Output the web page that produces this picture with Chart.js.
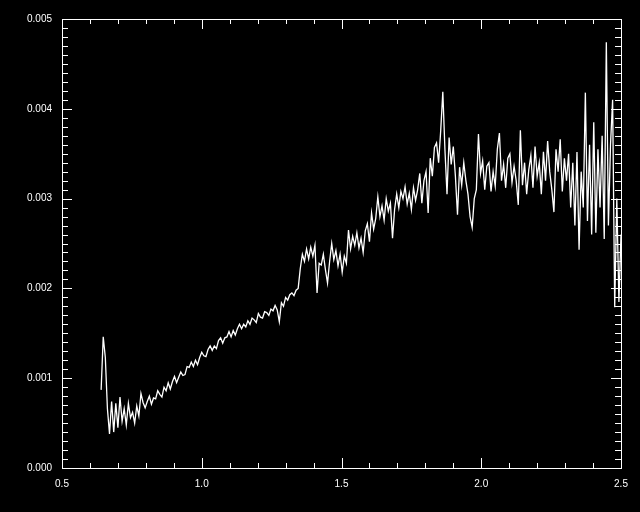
<!DOCTYPE html>
<html>
<head>
<meta charset="utf-8">
<script src="https://cdn.jsdelivr.net/npm/chart.js@4.4.0/dist/chart.umd.min.js"></script>
<style>
  html, body { margin: 0; padding: 0; background: #000; }
  #grafico { width: 640px; height: 512px; }
</style>
</head>
<body>
<div id="grafico"><canvas id="espectro" width="640" height="512"></canvas></div>
<script>
// sampling of the spectrum (x axis)
var lambdaInicio = 0.64;
var lambdaPasso = 0.0075;

// flux values
var fluxo = [
  0.00087, 0.00146, 0.00123, 0.00066, 0.00038, 0.00074, 0.00040, 0.00072, 0.00045, 0.00079,
  0.00052, 0.00066, 0.00048, 0.00072, 0.00056, 0.00062, 0.00050, 0.00069, 0.00058, 0.00083,
  0.00073, 0.00067, 0.00074, 0.00080, 0.00071, 0.00078, 0.00077, 0.00086, 0.00082, 0.00079,
  0.00090, 0.00086, 0.00095, 0.00088, 0.00096, 0.00102, 0.00095, 0.00101, 0.00107, 0.00103,
  0.00104, 0.00113, 0.00112, 0.00118, 0.00113, 0.00120, 0.00115, 0.00123, 0.00129, 0.00125,
  0.00124, 0.00132, 0.00136, 0.00131, 0.00136, 0.00133, 0.00142, 0.00145, 0.00139, 0.00145,
  0.00146, 0.00152, 0.00146, 0.00153, 0.00148, 0.00155, 0.00160, 0.00155, 0.00160, 0.00157,
  0.00164, 0.00160, 0.00167, 0.00165, 0.00162, 0.00172, 0.00168, 0.00167, 0.00174, 0.00173,
  0.00170, 0.00177, 0.00175, 0.00181, 0.00176, 0.00163, 0.00184, 0.00180, 0.00190, 0.00187,
  0.00193, 0.00195, 0.00192, 0.00198, 0.00200, 0.00222, 0.00238, 0.00230, 0.00244, 0.00233,
  0.00246, 0.00236, 0.00248, 0.00195, 0.00228, 0.00226, 0.00238, 0.00221, 0.00206, 0.00230,
  0.00250, 0.00232, 0.00242, 0.00225, 0.00238, 0.00218, 0.00236, 0.00228, 0.00265, 0.00244,
  0.00258, 0.00248, 0.00262, 0.00245, 0.00256, 0.00240, 0.00264, 0.00272, 0.00252, 0.00284,
  0.00266, 0.00278, 0.00302, 0.00280, 0.00292, 0.00276, 0.00300, 0.00286, 0.00295, 0.00256,
  0.00288, 0.00305, 0.00290, 0.00308, 0.00300, 0.00313, 0.00294, 0.00306, 0.00288, 0.00312,
  0.00298, 0.00310, 0.00328, 0.00295, 0.00320, 0.00330, 0.00284, 0.00345, 0.00325, 0.00357,
  0.00362, 0.00340, 0.00376, 0.00419, 0.00355, 0.00305, 0.00368, 0.00338, 0.00358, 0.00325,
  0.00282, 0.00335, 0.00315, 0.00340, 0.00320, 0.00305, 0.00280, 0.00268, 0.00300, 0.00310,
  0.00372, 0.00328, 0.00342, 0.00310, 0.00336, 0.00340, 0.00308, 0.00330, 0.00314, 0.00355,
  0.00373, 0.00320, 0.00338, 0.00312, 0.00345, 0.00350, 0.00318, 0.00336, 0.00320, 0.00293,
  0.00376, 0.00315, 0.00340, 0.00305, 0.00332, 0.00348, 0.00312, 0.00358, 0.00325, 0.00340,
  0.00305, 0.00352, 0.00320, 0.00364, 0.00330, 0.00310, 0.00285, 0.00355, 0.00330, 0.00366,
  0.00308, 0.00345, 0.00320, 0.00350, 0.00290, 0.00340, 0.00270, 0.00352, 0.00243, 0.00330,
  0.00290, 0.00418, 0.00275, 0.00360, 0.00260, 0.00385, 0.00262, 0.00355, 0.00290, 0.00370,
  0.00255, 0.00474, 0.00270, 0.00360, 0.00410, 0.00179, 0.00300, 0.00185, 0.00260
];

// axis ticks
var xTicks = [0.5, 1.0, 1.5, 2.0, 2.5];
var yTicks = [0.000, 0.001, 0.002, 0.003, 0.004, 0.005];

var pontos = [];
for (var i = 0; i < fluxo.length; i++) {
    pontos.push({ x: lambdaInicio + i * lambdaPasso, y: fluxo[i] });
}

// box and inward ticks on the four sides, like the original plot
var moldura = {
    id: 'moldura',
    afterDraw: function (chart) {
        var ctx = chart.ctx;
        var a = chart.chartArea;
        var sx = chart.scales.x;
        var sy = chart.scales.y;
        ctx.save();
        ctx.strokeStyle = '#fff';
        ctx.lineWidth = 1;
        ctx.strokeRect(Math.round(a.left) + 0.5, Math.round(a.top) + 0.5,
            Math.round(a.right - a.left), Math.round(a.bottom - a.top));
        ctx.beginPath();
        for (var k = 0; k <= 20; k++) {
            var v = 0.5 + k * 0.1;
            var px = Math.round(sx.getPixelForValue(v)) + 0.5;
            var len = (k % 5 === 0) ? 10 : 5;
            ctx.moveTo(px, a.bottom);
            ctx.lineTo(px, a.bottom - len);
            ctx.moveTo(px, a.top);
            ctx.lineTo(px, a.top + len);
        }
        for (var j = 0; j <= 50; j++) {
            var w = j * 0.0001;
            var py = Math.round(sy.getPixelForValue(w)) + 0.5;
            var l2 = (j % 10 === 0) ? 10 : 6;
            ctx.moveTo(a.left, py);
            ctx.lineTo(a.left + l2, py);
            ctx.moveTo(a.right, py);
            ctx.lineTo(a.right - l2, py);
        }
        ctx.stroke();
        ctx.restore();
    }
};

var fonte = { family: 'Liberation Sans', size: 10 };

new Chart(document.getElementById('espectro'), {
    type: 'line',
    data: {
        datasets: [{
            data: pontos,
            borderColor: '#fff',
            borderWidth: 1.3,
            pointRadius: 0,
            tension: 0,
            fill: false
        }]
    },
    options: {
        responsive: false,
        animation: false,
        layout: { padding: { top: 19, right: 19, bottom: 0, left: 0 } },
        plugins: { legend: { display: false }, tooltip: { enabled: false } },
        scales: {
            x: {
                type: 'linear',
                min: 0.5,
                max: 2.5,
                afterBuildTicks: function (s) { s.ticks = xTicks.map(function (v) { return { value: v }; }); },
                afterFit: function (s) { s.height = 44; },
                grid: { display: false, drawTicks: false },
                border: { display: false },
                ticks: {
                    color: '#fff',
                    font: fonte,
                    padding: 10,
                    maxRotation: 0,
                    callback: function (v) { return v.toFixed(1); }
                }
            },
            y: {
                type: 'linear',
                min: 0,
                max: 0.005,
                afterBuildTicks: function (s) { s.ticks = yTicks.map(function (v) { return { value: v }; }); },
                afterFit: function (s) { s.width = 62; },
                grid: { display: false, drawTicks: false },
                border: { display: false },
                ticks: {
                    color: '#fff',
                    font: fonte,
                    padding: 10,
                    callback: function (v) { return v.toFixed(3); }
                }
            }
        }
    },
    plugins: [moldura]
});
</script>
</body>
</html>
